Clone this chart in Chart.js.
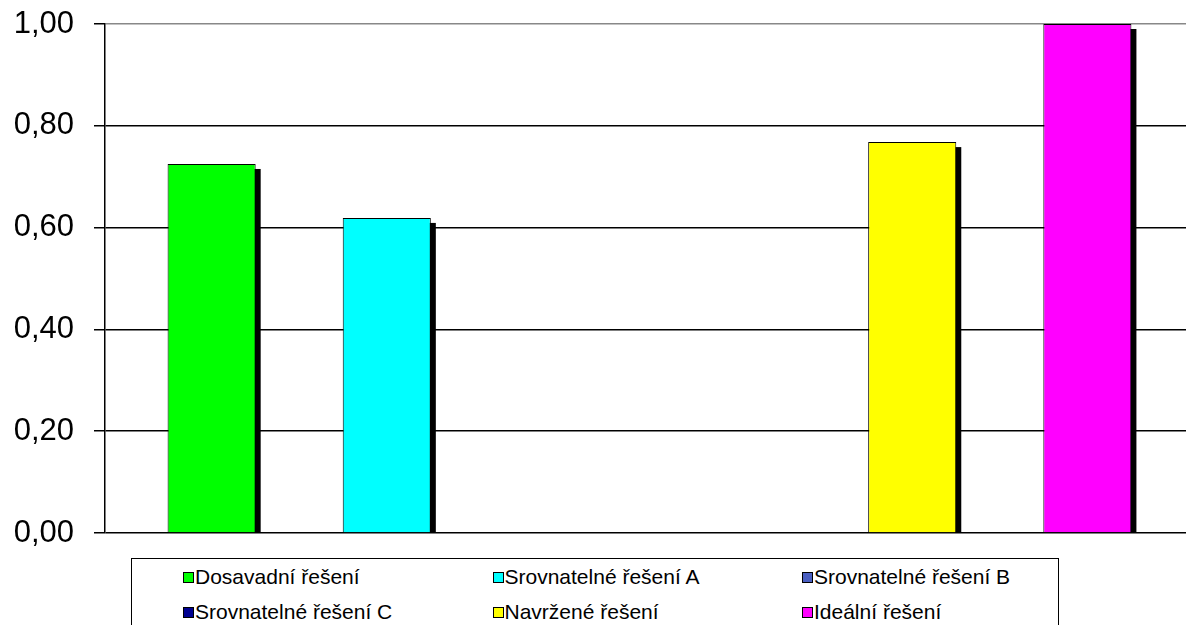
<!DOCTYPE html>
<html>
<head>
<meta charset="utf-8">
<script src="https://cdn.jsdelivr.net/npm/chart.js@4"></script>
<style>
  body { margin: 0; background: #fff; overflow: hidden; }
  #wrap { position: relative; width: 1186px; height: 625px; overflow: hidden; }
  #legend {
    position: absolute; left: 131px; top: 558px; width: 926px; height: 90px;
    border: 1.5px solid #000; background: #fff;
    font-family: Arial, 'Liberation Sans', sans-serif; font-size: 21px; color: #000;
  }
  .item { position: absolute; display: flex; align-items: center; white-space: nowrap; }
  .box { width: 9px; height: 9px; border: 1px solid #000; margin-right: 1px; }
</style>
</head>
<body>
<div id="wrap">
  <canvas id="myChart" width="1194" height="625"></canvas>
  <div id="legend"></div>
</div>
<script>
const ctx = document.getElementById('myChart');

const category = [''];
const seriesNames = ['Dosavadní řešení', 'Srovnatelné řešení A', 'Srovnatelné řešení B',
                     'Srovnatelné řešení C', 'Navržené řešení', 'Ideální řešení'];
const seriesValues = [0.725, 0.619, 0, 0, 0.768, 1.00];
const seriesColors = ['#00ff00', '#00ffff', '#4a5fc1', '#000090', '#ffff00', '#ff00ff'];
const yTicks = [0, 0.2, 0.4, 0.6, 0.8, 1.0];

// black drop shadow behind each bar, taken from the bar elements
const barShadow = {
    id: 'barShadow',
    beforeDatasetsDraw(chart) {
        const c = chart.ctx, area = chart.chartArea;
        c.save();
        c.beginPath();
        c.rect(area.left, area.top, area.right - area.left, area.bottom - area.top);
        c.clip();
        c.fillStyle = '#000';
        chart.data.datasets.forEach((ds, i) => {
            chart.getDatasetMeta(i).data.forEach(bar => {
                const h = bar.base - bar.y;
                if (h <= 0) return;
                c.fillRect(bar.x - bar.width / 2 + 5, bar.y + 5, bar.width, h);
            });
        });
        c.restore();
    }
};

const chart = new Chart(ctx, {
    type: 'bar',
    data: {
        labels: category,
        datasets: seriesNames.map((name, i) => ({
            label: name,
            data: [seriesValues[i]],
            backgroundColor: seriesColors[i],
            borderColor: '#000',
            borderWidth: 1,
            barPercentage: 0.503,
            categoryPercentage: 0.965
        }))
    },
    options: {
        responsive: false,
        animation: false,
        layout: { padding: { top: 24, bottom: 92, left: 0, right: 0 } },
        plugins: {
            legend: { display: false },
            tooltip: { enabled: false }
        },
        scales: {
            x: { display: false },
            y: {
                min: 0,
                max: 1,
                afterBuildTicks: (scale) => { scale.ticks = yTicks.map(v => ({ value: v })); },
                afterFit: (scale) => {
                    scale.width = 105;
                    scale.paddingTop = 0;
                    scale.paddingBottom = 0;
                },
                ticks: {
                    padding: 20,
                    color: '#000',
                    font: { family: "Arial, 'Liberation Sans', sans-serif", size: 31 },
                    callback: (v) => v.toFixed(2).replace('.', ',')
                },
                grid: {
                    color: (c) => c.tick && c.tick.value === 1 ? '#888' : '#000',
                    lineWidth: 1.5,
                    tickLength: 11,
                    tickColor: '#000'
                },
                border: { display: true, color: '#000', width: 1.5 }
            }
        }
    },
    plugins: [barShadow]
});

// legend box: 3 columns x 2 rows
const legend = document.getElementById('legend');
chart.data.datasets.forEach((ds, i) => {
    const col = i % 3, row = Math.floor(i / 3);
    const el = document.createElement('div');
    el.className = 'item';
    el.style.left = (51 + col * 309.5) + 'px';
    el.style.top = (6 + row * 35) + 'px';
    el.innerHTML = '<span class="box" style="background:' + ds.backgroundColor + '"></span>' + ds.label;
    legend.appendChild(el);
});
</script>
</body>
</html>
